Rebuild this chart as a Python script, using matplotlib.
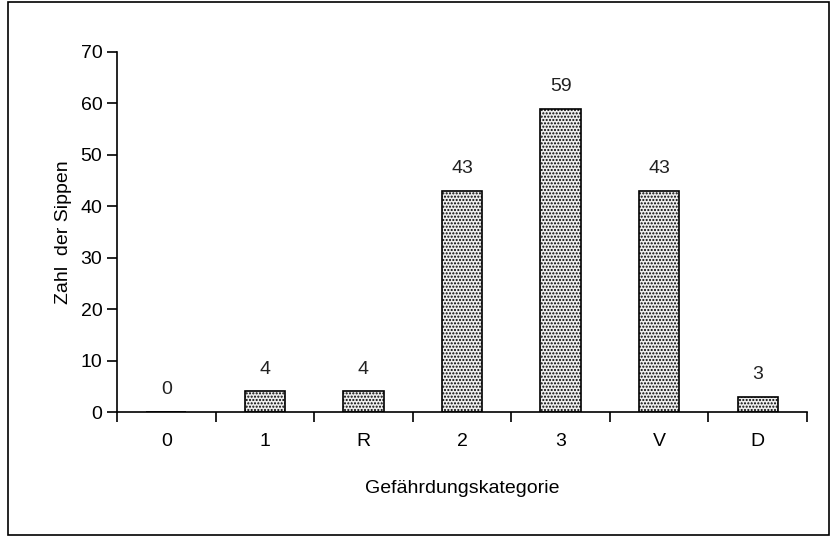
import numpy as np
import matplotlib.pyplot as plt
from matplotlib.patches import Rectangle

# Daten
kategorien = ['0', '1', 'R', '2', '3', 'V', 'D']
sippen = [0, 4, 4, 43, 59, 43, 3]

plt.rcParams['font.family'] = ['Liberation Sans Narrow', 'Liberation Sans', 'DejaVu Sans']
plt.rcParams['hatch.linewidth'] = 1.0

fig = plt.figure(figsize=(8.32, 5.36), dpi=100)
ax = fig.add_axes([0.1406, 0.2313, 0.8294, 0.6717])

x = np.arange(len(kategorien))
ax.bar(x, sippen, width=0.41, color='#eeeeee', edgecolor='black',
       linewidth=1.2, hatch='.....')

# Werte ueber den Balken
for xi, v in zip(x, sippen):
    ax.annotate(str(v), (xi, v), xytext=(0, 10), textcoords='offset points',
                ha='center', va='bottom', fontsize=14, color='#222222')

ax.set_xlim(-0.5, len(kategorien) - 0.5)
ax.set_ylim(0, 70)
ax.set_yticks(range(0, 71, 10))
ax.set_xticks(x)
ax.set_xticklabels(kategorien)
ax.set_xticks(np.arange(-0.5, len(kategorien), 1), minor=True)
ax.tick_params(axis='x', which='major', length=0, pad=15, labelsize=14)
ax.tick_params(axis='x', which='minor', length=7, width=1.2, direction='out')
ax.tick_params(axis='y', length=7, width=1.2, direction='out', labelsize=14)

for s in ['top', 'right']:
    ax.spines[s].set_visible(False)
for s in ['left', 'bottom']:
    ax.spines[s].set_linewidth(1.2)

ax.set_xlabel('Gefährdungskategorie', fontsize=14, labelpad=22)
ax.set_ylabel('Zahl  der Sippen', fontsize=14, labelpad=6)

# Rahmen um die Grafik
fig.patches.append(Rectangle((8 / 832, 1 / 536), 821 / 832, 533 / 536,
                             transform=fig.transFigure, fill=False,
                             edgecolor='black', linewidth=1.2))

fig.savefig('out.png', dpi=100)
